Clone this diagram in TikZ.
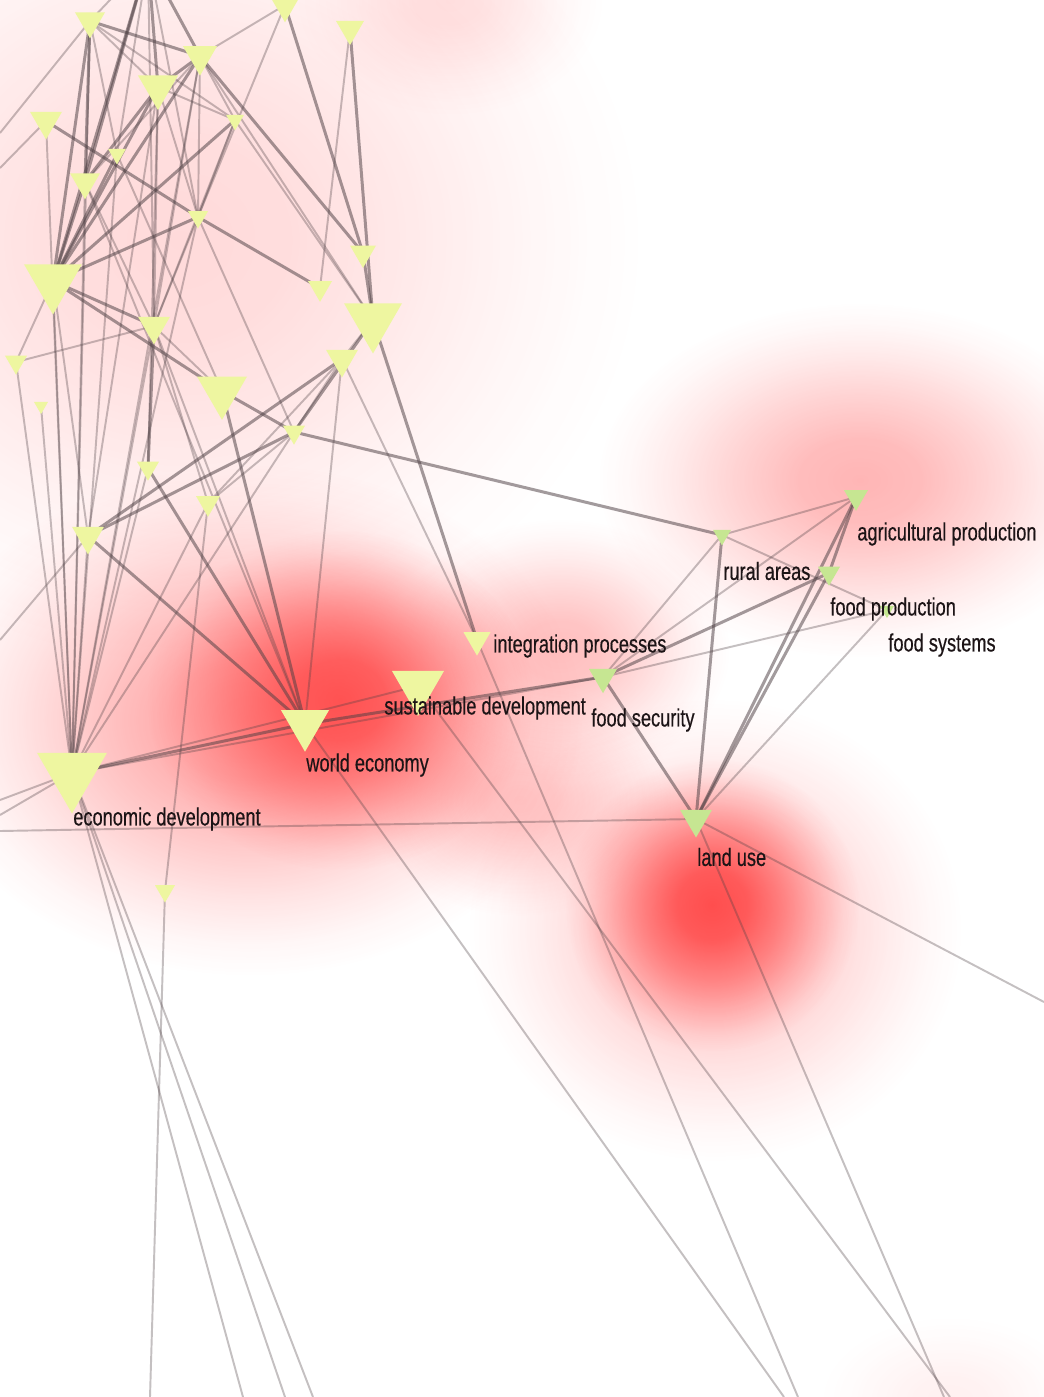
\documentclass[tikz,border=0pt]{standalone}
\usepackage{fontspec}
\setmainfont{Liberation Sans}[FakeStretch=0.73, FakeBold=0.4]
\usetikzlibrary{shapes.geometric, fadings}
\definecolor{kwYellow}{HTML}{EEF6A0}
\definecolor{kwGreen}{HTML}{C6E692}
\definecolor{linkInk}{HTML}{4E4044}
\definecolor{labelInk}{HTML}{1C1416}
\definecolor{heatRed}{HTML}{FF4848}
\pgfdeclareradialshading{heatshade}{\pgfpoint{0bp}{0bp}}{color(0bp)=(white);
  color(4bp)=(white!90!black); color(8bp)=(white!60!black);
  color(12bp)=(white!28!black); color(15bp)=(white!8!black);
  color(17bp)=(black); color(50bp)=(black)}
\begin{tikzfadingfrompicture}[name=heatfade]
  \shade[shading=heatshade] (-1cm,-1cm) rectangle (1cm,1cm);
\end{tikzfadingfrompicture}
\pgfdeclarelayer{heat}
\pgfdeclarelayer{links}
\pgfsetlayers{heat,links,main}
\tikzset{
  kw/.style={regular polygon, regular polygon sides=3, shape border rotate=180,
    fill=kwYellow, inner sep=0pt, minimum size={#1*0.0231cm}},
  kwg/.style={kw=#1, fill=kwGreen},
  lbl/.style={font=\fontsize{14.2}{16}\selectfont, text=labelInk, inner sep=0pt, anchor=west},
  lk/.style={draw=linkInk, line width=1.1pt, draw opacity=.33},
  lkd/.style={draw=linkInk, line width=1.7pt, draw opacity=.52},
  blob/.style={fill=heatRed, path fading=heatfade}
}

\begin{document}
\begin{tikzpicture}[x=0.02cm, y=-0.02cm]
  \useasboundingbox (0,0) rectangle (1044,1397);

  % keyword nodes
  \node[kw=30] (n1) at (90,21) {};
  \node[kw=30] (n2) at (285,5) {};
  \node[kw=28] (n3) at (350,29) {};
  \node[kw=34] (n4) at (200,56) {};
  \node[kw=40] (n5) at (158,87) {};
  \node[kw=32] (n6) at (46,121) {};
  \node[kw=18] (n7) at (235,120) {};
  \node[kw=18] (n8) at (117,154) {};
  \node[kw=30] (n9) at (85,182) {};
  \node[kw=20] (n10) at (198,217) {};
  \node[kw=58] (n11) at (53,281) {};
  \node[kw=26] (n12) at (363,253) {};
  \node[kw=24] (n13) at (320,288) {};
  \node[kw=58] (n14) at (373,320) {};
  \node[kw=32] (n15) at (154,326) {};
  \node[kw=22] (n16) at (16,362) {};
  \node[kw=32] (n17) at (342,359) {};
  \node[kw=14] (n18) at (41,406) {};
  \node[kw=50] (n19) at (222,391) {};
  \node[kw=22] (n20) at (294,432) {};
  \node[kw=22] (n21) at (148,468) {};
  \node[kw=24] (n22) at (208,503) {};
  \node[kw=32] (n23) at (88,536) {};
  \node[kw=27] (ip) at (477,640) {};
  \node[kw=52] (sd) at (418,686) {};
  \node[kw=48] (we) at (305,724) {};
  \node[kw=70] (ed) at (72,773) {};
  \node[kw=20] (n24) at (165,891) {};
  \node[kwg=24] (ap) at (856,497) {};
  \node[kwg=18] (ra) at (722,535) {};
  \node[kwg=22] (fp) at (829,573) {};
  \node[kwg=14] (fsys) at (887,610) {};
  \node[kwg=28] (fsec) at (603,677) {};
  \node[kwg=32] (lu) at (696,819) {};

  % labels
  \node[lbl] (apL) at ([shift={(1,37)}]ap.center) {agricultural production};
  \node[lbl] (raL) at ([shift={(1,36)}]ra.center) {rural areas};
  \node[lbl] (fpL) at ([shift={(1,36)}]fp.center) {food production};
  \node[lbl] (fsysL) at ([shift={(1,35)}]fsys.center) {food systems};
  \node[lbl] (ipL) at ([shift={(16,6)}]ip.center) {integration processes};
  \node[lbl] (sdL) at ([shift={(-34,22)}]sd.center) {sustainable development};
  \node[lbl] (fsecL) at ([shift={(-12,43)}]fsec.center) {food security};
  \node[lbl] (weL) at ([shift={(1,41)}]we.center) {world economy};
  \node[lbl] (edL) at ([shift={(1,46)}]ed.center) {economic development};
  \node[lbl] (luL) at ([shift={(1,38)}]lu.center) {land use};

  % free ends outside the frame
  \coordinate (hubT) at (148,-40);
  \coordinate (offL1) at (0,133);
  \coordinate (offL2) at (0,168);
  \coordinate (offL3) at (0,640);
  \coordinate (offL4) at (0,800);
  \coordinate (offL5) at (0,815);
  \coordinate (offL6) at (0,831);
  \coordinate (offB1) at (243,1397);
  \coordinate (offB2) at (285,1397);
  \coordinate (offB3) at (313,1397);
  \coordinate (offB4) at (150,1397);
  \coordinate (offB5) at (784,1397);
  \coordinate (offB6) at (798,1397);
  \coordinate (offB7) at (950,1397);
  \coordinate (offB8) at (944,1397);
  \coordinate (offR) at (1044,1002);

  \begin{pgfonlayer}{links}
    \clip (0,0) rectangle (1044,1397);
    \foreach \a/\b in {n1/n4, n1/n9, n1/n11, n2/n12, n3/n14, n4/n5, n4/n11, n4/n12,
        n5/n11, n5/n9, n6/n10, n10/n13, n7/n11, n8/n11, n9/n11, n10/n11, n11/n15,
        n11/n19, n12/n14, n14/n20, n14/ip, n15/n21, n17/n23, n19/n20, n19/we,
        n20/n23, n20/ra, n21/we, n23/we, ed/we, we/fsec, fsec/lu, fp/fsec, ap/fp,
        ap/lu, fp/lu, ra/lu, hubT/n9, hubT/n11, hubT/n5, hubT/n4}
      \draw[lkd] (\a.center) -- (\b.center);
    \foreach \a/\b in {n1/n5, n1/n8, n1/n7, n1/offL1, n1/hubT, n2/n4, n2/n10, n3/n13,
        n4/n15, n4/n14, n4/n7, n4/n9, n4/n10, n5/n10, n5/n7, n5/n15, n5/n21, n5/n23,
        n6/offL2, n7/n10, n7/n15, n7/n14, n8/n19, n9/n15, n10/n15, n10/n20, n11/n16,
        n11/n23, n14/n17, n15/n16, n15/n22, n15/n19, n15/we, n17/n20, n17/n22,
        n17/we, n20/n22, n9/we, n22/n24, n24/offB4, n23/offL3, hubT/n8, hubT/n15,
        hubT/n10, ed/n16, ed/n18, ed/n11, ed/n6, ed/n9, ed/n1, ed/n23, ed/n15,
        ed/n21, ed/n22, ed/n4, ed/n20, ed/n10, ed/n8, ed/sd, ed/fsec, ed/offL4,
        ed/offL5, ed/offB1, ed/offB2, ed/offB3, lu/offL6, lu/offR, lu/offB8,
        we/offB5, ip/offB6, sd/offB7, ip/n17, ra/ap, ra/fsys, ra/fsec, ap/fsec,
        fsys/fsec, fsys/lu}
      \draw[lk] (\a.center) -- (\b.center);
  \end{pgfonlayer}

  % density halo
  \begin{pgfonlayer}{heat}
    \clip (0,0) rectangle (1044,1397);
    \fill[white] (0,0) rectangle (1044,1397);
    \fill[blob, fill opacity=.2] (180,240) ellipse [x radius=12cm, y radius=11cm];
    \fill[blob, fill opacity=.15] (450,0) ellipse [x radius=4cm, y radius=3cm];
    \fill[blob, fill opacity=.4] (860,480) ellipse [x radius=6.8cm, y radius=4.6cm];
    \fill[blob, fill opacity=.35] (560,650) ellipse [x radius=4.4cm, y radius=3.4cm];
    \fill[blob, fill opacity=.3] (520,800) ellipse [x radius=4cm, y radius=3cm];
    \fill[blob, fill opacity=.5] (250,720) ellipse [x radius=8.6cm, y radius=6.6cm];
    \fill[blob, fill opacity=.9] (340,700) ellipse [x radius=5cm, y radius=4.4cm];
    \fill[blob, fill opacity=.35] (715,930) ellipse [x radius=6.4cm, y radius=6cm];
    \fill[blob, fill opacity=.95] (712,905) ellipse [x radius=3.8cm, y radius=3.8cm];
    \fill[blob, fill opacity=.08] (950,1400) ellipse [x radius=3.4cm, y radius=2.2cm];
  \end{pgfonlayer}
\end{tikzpicture}
\end{document}
